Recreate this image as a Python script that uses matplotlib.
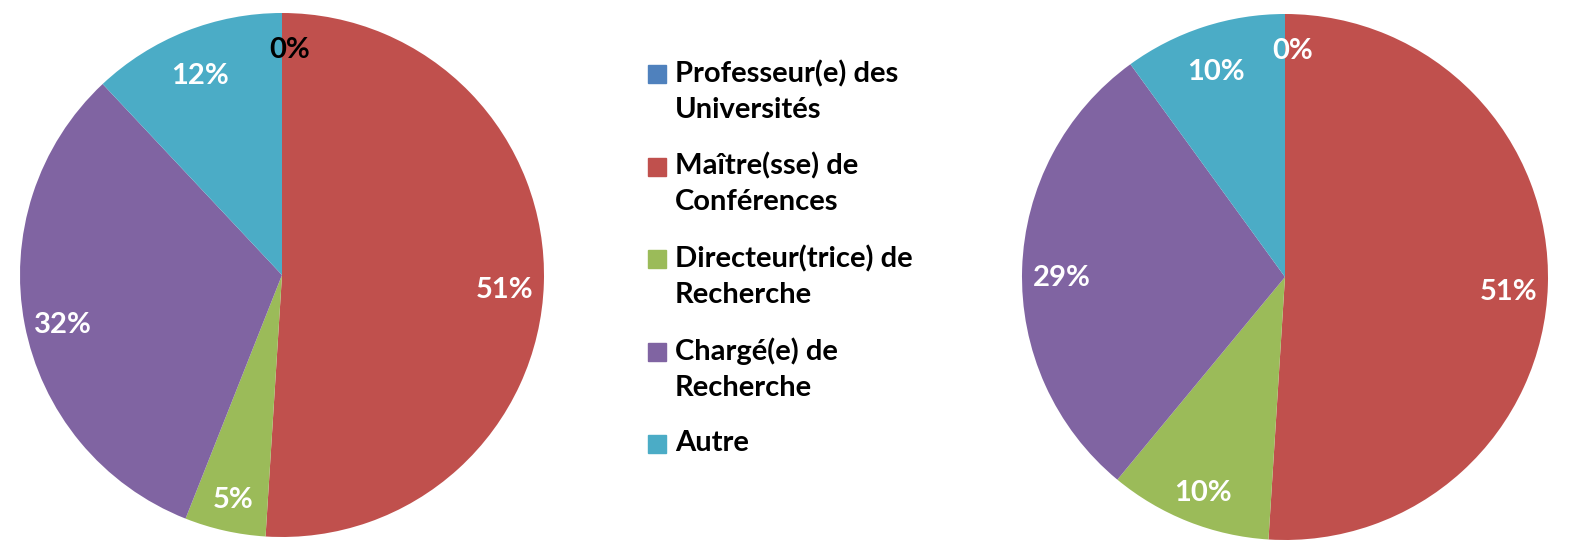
import matplotlib.pyplot as plt
from matplotlib.patches import Rectangle

categories = ['Professeur(e) des\nUniversités', 'Maître(sse) de\nConférences',
              'Directeur(trice) de\nRecherche', 'Chargé(e) de\nRecherche', 'Autre']
colors = ['#4F81BD', '#C0504D', '#9BBB59', '#8064A2', '#4BACC6']
left_values = [0, 51, 5, 32, 12]
left_labels = ['0%', '51%', '5%', '32%', '12%']
right_values = [0, 51, 10, 29, 10]
right_labels = ['0%', '51%', '10%', '29%', '10%']

W, H = 1575, 549
fig = plt.figure(figsize=(W / 100, H / 100), dpi=100)
font = dict(family=['Lato', 'DejaVu Sans'], weight='bold', size=21)


def draw_pie(cx, cy, r, values, labels, first_color):
    ax = fig.add_axes([(cx - r) / W, (H - cy - r) / H, 2 * r / W, 2 * r / H])
    wedges, texts = ax.pie(values, colors=colors, startangle=90, counterclock=False,
                           labels=labels, labeldistance=0.85,
                           textprops=dict(color='white', **font))
    for t in texts:
        t.set_ha('center')
        t.set_va('center')
        x, y = t.get_position()
        t.set_position((x, y - 0.03))
    texts[0].set_color(first_color)
    texts[0].set_position((0.03, 0.86))
    ax.set_xlim(-1, 1)
    ax.set_ylim(-1, 1)
    ax.set_aspect('auto')
    return ax


draw_pie(282, 275, 262, left_values, left_labels, 'black')
draw_pie(1285, 277, 263, right_values, right_labels, 'white')

# legend
lax = fig.add_axes([0, 0, 1, 1])
lax.set_xlim(0, W)
lax.set_ylim(H, 0)
lax.axis('off')
for i, (lab, c) in enumerate(zip(categories, colors)):
    y = 74 + i * 92.5
    lax.add_patch(Rectangle((648, y - 9), 18, 18, color=c))
    lax.text(675, y - 14, lab, va='top', ha='left', linespacing=1.45, **font)

plt.savefig('out.png', dpi=100)
